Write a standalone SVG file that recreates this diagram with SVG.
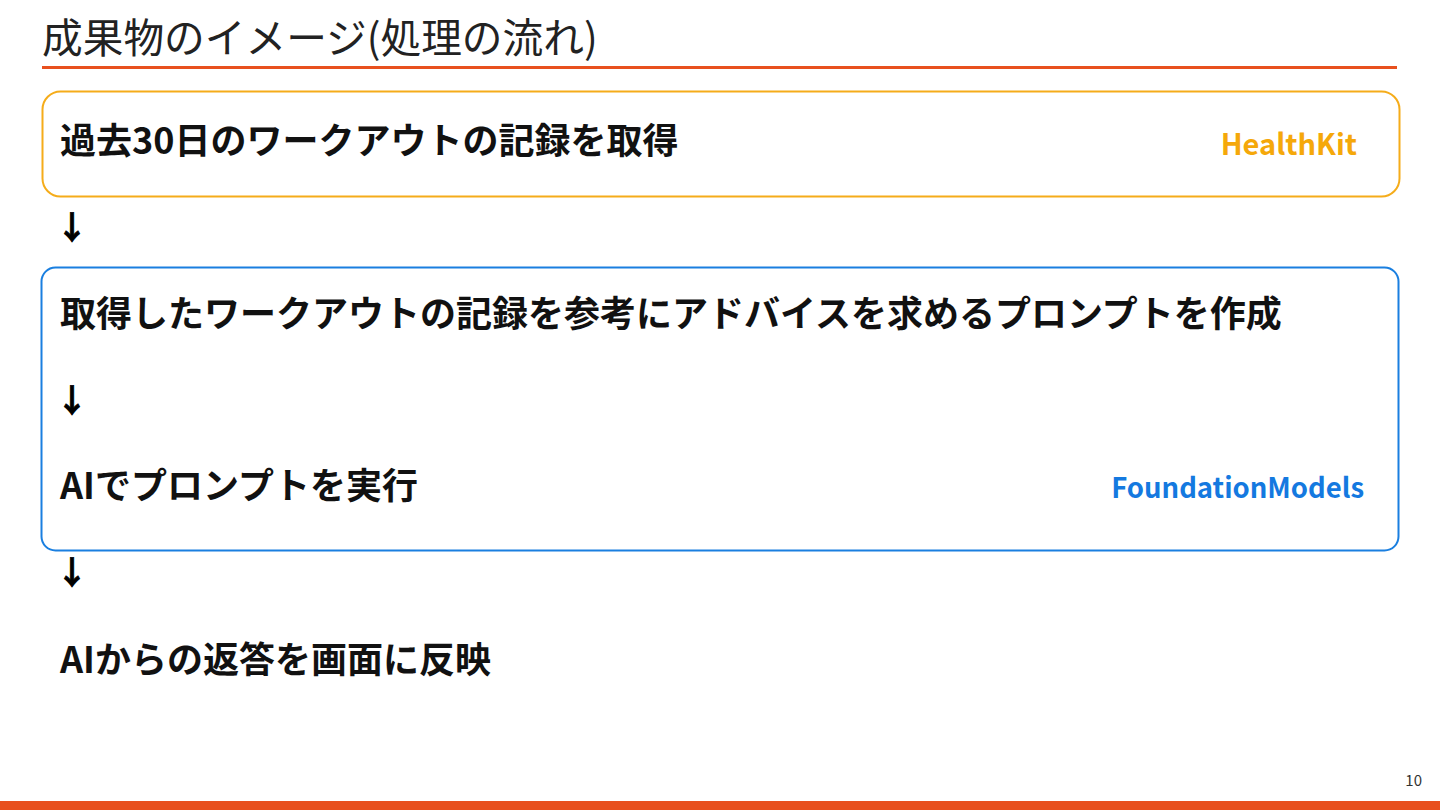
<svg xmlns="http://www.w3.org/2000/svg" width="1440" height="810" viewBox="0 0 1440 810">
<style>
.t{font-family:"Noto Sans CJK JP","Noto Sans",sans-serif;}
.title{font-size:40.7px;fill:#222;}
.body{font-size:36px;font-weight:bold;fill:#111;}
.arr{font-size:32px;font-weight:bold;fill:#000;stroke:#000;stroke-width:0.8;}
.hk{font-size:29px;font-weight:bold;fill:#F5A80A;}
.fm{font-size:27.5px;font-weight:bold;fill:#1479E0;}
</style>
<rect width="1440" height="810" fill="#fff"/>
<g id="header">
<text class="t title" x="42" y="53">成果物のイメージ(処理の流れ)</text>
<rect x="42" y="66" width="1355" height="3" fill="#E8501E"/>
</g>
<g id="node-healthkit">
<rect x="42.5" y="91.5" width="1357" height="105" rx="18" fill="none" stroke="#F5AC1A" stroke-width="2"/>
<text class="t body" x="60" y="154">過去30日のワークアウトの記録を取得</text>
<text class="t hk" x="1357" y="155" text-anchor="end">HealthKit</text>
</g>
<g id="node-foundation">
<rect x="41.5" y="267.5" width="1357" height="283" rx="14" fill="none" stroke="#1A7FE0" stroke-width="2"/>
<text class="t body" x="60" y="327">取得したワークアウトの記録を参考にアドバイスを求めるプロンプトを作成</text>
<text class="t body" x="60" y="499">AIでプロンプトを実行</text>
<text class="t fm" x="1364" y="498" text-anchor="end">FoundationModels</text>
</g>
<g id="node-result">
<text class="t body" x="60" y="673">AIからの返答を画面に反映</text>
</g>
<g id="connectors">
<text class="t arr" x="56" y="239">↓</text>
<text class="t arr" x="56" y="412">↓</text>
<text class="t arr" x="56" y="584">↓</text>
</g>
<g id="footer">
<text class="t" x="1422" y="786" font-size="15" fill="#333" text-anchor="end">10</text>
<rect x="0" y="801" width="1440" height="9" fill="#E8501E"/>
</g>
</svg>
